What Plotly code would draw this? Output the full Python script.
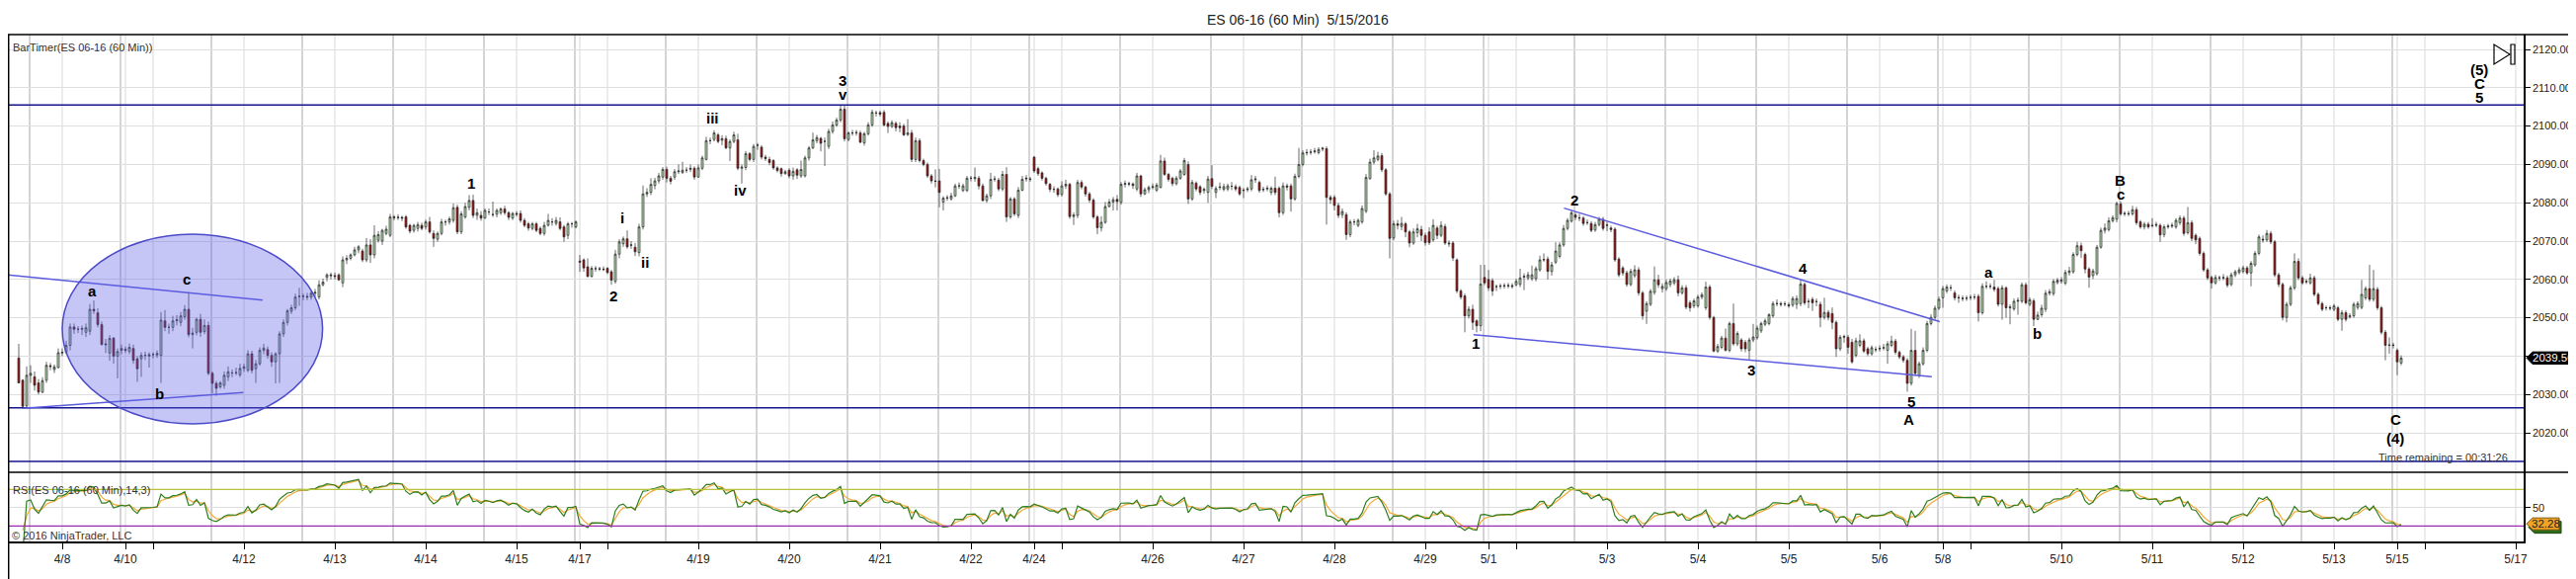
import plotly.graph_objects as go

# ---------------- DATA ----------------
# Each session: list of 60-min bars as (open, high, low, close)
d0407 = [(2039.5,2043.2,2032.9,2033.0),(2033.7,2034.0,2026.3,2026.9),(2027.0,2037.3,2026.4,2035.0),(2035.0,2037.6,2033.0,2035.5),
         (2034.6,2036.0,2031.0,2032.4),(2033.0,2034.0,2030.0,2030.6),(2030.6,2034.5,2030.3,2033.6),(2033.7,2038.5,2033.0,2037.6),
         (2037.5,2038.2,2036.3,2037.3),(2036.5,2037.8,2035.6,2037.2),(2037.0,2042.0,2036.8,2040.9)]
d0408 = [(2040.8,2042.0,2040.0,2041.0),(2041.0,2044.0,2040.5,2042.8),(2042.8,2048.5,2041.5,2047.6),(2047.6,2048.5,2045.8,2047.0),
         (2047.0,2047.8,2046.0,2047.0),(2047.0,2048.0,2045.5,2047.2),(2046.2,2048.5,2045.0,2047.4),(2046.5,2053.6,2045.5,2052.2),
         (2052.2,2054.5,2051.0,2051.8),(2051.3,2052.5,2047.5,2048.2),(2048.2,2049.0,2042.8,2043.0),(2043.2,2044.5,2040.8,2043.0),
         (2040.8,2045.5,2038.8,2044.6),(2044.7,2045.0,2038.0,2040.0),(2040.0,2042.0,2034.2,2041.2),(2041.5,2043.0,2040.5,2042.0)]
d0410 = [(2041.8,2042.5,2040.8,2041.5),(2041.2,2043.3,2040.5,2042.3),(2042.0,2043.0,2038.0,2038.9),(2039.3,2040.0,2033.3,2036.7),
         (2039.3,2041.0,2034.6,2040.2),(2040.2,2041.2,2039.0,2040.2),(2040.0,2041.0,2037.0,2040.4)]
d0411 = [(2040.4,2041.0,2039.4,2040.4),(2040.3,2041.5,2039.5,2040.7),(2040.2,2051.5,2033.0,2049.4),(2049.2,2052.0,2046.5,2047.5),
         (2047.5,2048.5,2045.8,2047.5),(2047.5,2050.5,2046.5,2049.2),(2049.2,2050.7,2048.0,2049.5),(2048.8,2051.5,2047.8,2050.5),
         (2050.3,2053.3,2049.5,2052.2),(2052.2,2056.7,2044.9,2045.6),(2045.6,2047.4,2042.0,2046.0),(2046.2,2050.0,2045.4,2049.6),
         (2049.6,2051.0,2045.0,2046.2),(2046.4,2049.6,2045.7,2048.0),(2048.0,2049.0,2035.0,2035.5),(2035.5,2036.0,2030.3,2032.9),
         (2032.9,2033.5,2029.6,2031.6),(2032.0,2033.5,2031.5,2033.0),(2032.4,2036.0,2031.5,2035.0),(2034.6,2037.3,2033.5,2035.9),
         (2035.6,2036.5,2034.5,2035.6),(2035.6,2037.0,2035.0,2035.7),(2035.1,2038.0,2034.5,2036.8)]
d0412 = [(2036.8,2038.0,2035.9,2037.2),(2036.3,2041.5,2035.8,2040.6),(2040.6,2041.4,2035.5,2036.3),(2036.7,2039.0,2033.0,2038.0),
         (2038.0,2042.3,2037.5,2041.5),(2041.5,2043.2,2040.5,2042.1),(2041.7,2042.5,2039.3,2040.2),(2040.2,2041.0,2037.2,2038.5),
         (2038.5,2041.0,2032.9,2040.6),(2040.6,2046.5,2033.0,2045.8),(2045.8,2049.6,2045.0,2048.8),(2048.8,2052.3,2048.0,2051.8),
         (2051.7,2053.4,2051.0,2052.6),(2052.6,2056.3,2052.0,2055.4),(2055.5,2057.8,2053.1,2055.6),(2055.6,2056.3,2054.5,2055.6),
         (2055.6,2056.5,2054.6,2055.4),(2055.4,2057.0,2054.7,2056.4),(2056.4,2057.5,2055.5,2056.6),(2055.4,2059.8,2054.8,2058.6),
         (2058.6,2060.2,2058.2,2059.3),(2060.5,2061.6,2059.5,2061.2),(2061.2,2061.8,2060.0,2061.0)]
d0413 = [(2061.0,2061.8,2060.0,2060.8),(2061.2,2061.6,2059.6,2059.9),(2059.1,2066.0,2058.0,2065.1),(2065.1,2066.3,2064.0,2065.5),
         (2065.5,2066.8,2065.0,2066.4),(2066.4,2068.5,2066.0,2067.7),(2067.7,2069.0,2066.8,2068.5),(2067.4,2068.0,2064.5,2065.1),
         (2065.1,2070.8,2064.5,2069.0),(2069.0,2070.5,2064.3,2066.4),(2066.4,2074.1,2065.5,2071.5),(2070.2,2072.6,2069.6,2071.7),
         (2070.0,2073.2,2069.0,2072.8),(2072.0,2074.0,2071.5,2073.1),(2071.5,2077.1,2071.0,2076.3),(2076.3,2076.8,2075.4,2076.1),
         (2076.1,2077.0,2075.5,2076.2),(2076.2,2076.6,2075.2,2076.0),(2076.3,2076.8,2073.2,2073.7),(2074.1,2074.5,2072.0,2072.6),
         (2072.8,2074.5,2072.2,2074.1),(2073.3,2075.0,2072.5,2074.3),(2074.1,2074.8,2072.8,2073.3)]
d0414 = [(2073.7,2075.6,2073.0,2075.0),(2075.0,2076.3,2071.9,2072.4),(2072.0,2072.8,2068.5,2070.7),(2070.5,2072.5,2069.8,2072.0),
         (2072.0,2075.8,2071.5,2075.0),(2075.0,2075.6,2074.0,2075.0),(2075.0,2076.4,2074.3,2075.8),(2075.4,2079.8,2074.8,2078.7),
         (2078.8,2079.5,2071.8,2072.4),(2072.4,2077.8,2071.8,2077.1),(2076.3,2080.0,2075.8,2079.0),(2078.8,2082.0,2078.0,2080.6),
         (2080.6,2082.1,2076.0,2076.7),(2076.7,2078.5,2075.5,2077.4),(2076.7,2077.8,2075.3,2076.0),(2076.0,2078.5,2075.8,2078.0),
         (2077.6,2078.5,2076.8,2077.6),(2076.9,2080.3,2076.3,2076.9),(2077.0,2078.5,2076.2,2078.0),(2077.4,2078.8,2076.8,2078.4),
         (2078.4,2079.2,2076.8,2077.4),(2077.4,2077.8,2075.5,2076.2),(2076.0,2077.6,2075.5,2077.2)]
d0415 = [(2077.2,2077.8,2076.4,2077.0),(2077.2,2078.0,2074.8,2075.4),(2075.4,2076.0,2073.6,2074.1),(2074.5,2075.0,2072.7,2073.4),
         (2073.3,2075.0,2072.8,2074.5),(2074.5,2075.0,2072.3,2072.8),(2073.3,2073.8,2071.5,2072.0),(2072.0,2075.0,2071.4,2074.1),
         (2074.1,2077.1,2073.8,2075.4),(2075.0,2076.0,2074.0,2075.0),(2074.6,2076.3,2074.0,2075.4),(2075.0,2076.2,2072.8,2073.3),
         (2073.7,2074.2,2069.8,2071.1),(2071.5,2075.0,2070.5,2074.5),(2074.5,2075.0,2073.5,2074.5),(2073.7,2075.4,2073.3,2075.0)]
d0417 = [(2064.8,2066.4,2062.0,2064.5),(2065.1,2065.5,2062.0,2063.0),(2063.3,2065.5,2060.5,2060.8),(2060.8,2063.5,2060.5,2062.9),
         (2062.8,2063.5,2062.0,2062.8),(2062.8,2063.3,2062.2,2062.7),(2062.7,2063.4,2062.2,2062.6)]
d0418 = [(2062.9,2063.2,2061.4,2061.8),(2062.0,2062.5,2058.6,2059.8),(2059.5,2067.7,2058.9,2066.6),(2066.6,2070.5,2065.5,2069.8),
         (2069.3,2071.2,2068.5,2070.6),(2070.6,2072.8,2068.0,2068.5),(2068.9,2070.0,2068.0,2069.0),(2068.4,2069.5,2066.1,2067.2),
         (2067.0,2074.5,2066.0,2073.7),(2073.7,2084.5,2073.0,2082.3),(2082.3,2083.8,2081.5,2082.7),(2082.7,2086.4,2082.0,2084.8),
         (2084.5,2086.5,2083.5,2085.7),(2085.7,2087.8,2085.0,2087.0),(2086.7,2089.3,2086.0,2088.7),(2088.7,2089.4,2085.3,2086.4),
         (2086.4,2087.0,2084.8,2085.6),(2086.7,2088.8,2086.0,2088.1),(2088.1,2090.0,2087.5,2088.3),(2087.9,2090.7,2087.5,2088.5),
         (2088.5,2089.3,2087.8,2088.5),(2088.7,2090.0,2088.0,2089.0),(2089.0,2089.5,2086.0,2086.7)]
d0419 = [(2086.7,2090.0,2086.5,2089.1),(2089.0,2092.3,2088.5,2091.7),(2091.3,2097.2,2091.0,2096.2),(2096.2,2097.0,2095.3,2096.2),
         (2096.5,2098.9,2096.0,2098.2),(2097.7,2098.2,2095.5,2096.0),(2096.3,2097.6,2095.0,2096.7),(2096.7,2097.5,2094.0,2094.3),
         (2094.3,2096.5,2090.9,2096.0),(2096.0,2098.5,2095.5,2097.7),(2096.4,2098.0,2088.5,2089.0),(2089.0,2090.0,2085.0,2089.3),
         (2089.2,2093.5,2088.5,2092.8),(2092.8,2093.2,2090.8,2091.3),(2091.3,2095.3,2090.6,2094.7),(2095.0,2095.6,2093.8,2095.0),
         (2094.5,2095.0,2091.3,2091.9),(2091.9,2092.5,2090.9,2091.5),(2091.3,2092.0,2089.8,2090.5),(2091.0,2091.4,2088.6,2089.1),
         (2089.1,2089.5,2087.9,2088.4),(2088.9,2089.2,2086.8,2087.6),(2087.6,2088.6,2087.3,2088.1)]
d0420 = [(2088.5,2089.0,2086.4,2087.0),(2087.0,2089.2,2086.0,2088.2),(2088.6,2089.0,2086.2,2087.2),(2087.0,2091.0,2086.5,2088.7),
         (2087.0,2092.3,2086.6,2091.7),(2091.7,2094.8,2091.0,2094.3),(2094.3,2098.3,2094.0,2096.4),(2096.2,2097.7,2095.5,2097.0),
         (2096.8,2097.2,2093.4,2095.5),(2096.0,2097.0,2089.6,2096.0),(2094.7,2099.3,2094.0,2098.6),(2098.6,2101.2,2098.0,2100.3),
         (2100.3,2102.2,2099.8,2101.6),(2101.6,2105.3,2101.0,2104.4),(2104.4,2105.5,2096.0,2096.7),(2096.5,2098.6,2096.0,2098.2),
         (2098.2,2099.0,2097.5,2098.2),(2098.2,2099.0,2097.5,2098.3),(2098.2,2098.8,2095.5,2095.8),(2095.6,2098.5,2094.9,2098.0),
         (2098.0,2101.0,2097.5,2100.3),(2100.3,2104.3,2099.8,2103.6),(2103.4,2104.0,2102.5,2103.4)]
d0421 = [(2103.5,2104.0,2102.5,2103.1),(2103.6,2104.2,2099.9,2100.3),(2100.7,2101.2,2098.2,2099.9),(2099.9,2101.5,2099.5,2100.9),
         (2100.7,2101.2,2098.6,2099.6),(2100.0,2101.0,2098.4,2099.6),(2100.0,2100.6,2097.4,2097.7),(2097.8,2101.8,2097.4,2098.2),
         (2098.2,2099.0,2090.6,2091.3),(2091.3,2097.0,2090.6,2096.2),(2096.2,2096.8,2090.5,2091.0),(2091.0,2091.5,2089.5,2090.0),
         (2090.0,2090.5,2086.5,2087.0),(2087.0,2087.5,2085.0,2085.7),(2085.7,2088.7,2084.0,2085.6),(2085.7,2088.8,2078.8,2082.7),
         (2080.2,2081.7,2078.0,2081.2),(2081.2,2082.0,2080.5,2081.3),(2081.0,2082.6,2080.6,2081.8),(2081.8,2085.0,2081.5,2084.4),
         (2084.4,2085.3,2083.6,2084.4),(2083.2,2085.0,2082.8,2084.4),(2083.2,2087.0,2082.8,2086.4)]
d0422 = [(2086.4,2087.0,2085.6,2086.4),(2086.3,2089.2,2085.5,2086.6),(2086.4,2087.0,2083.5,2084.4),(2084.4,2085.0,2080.3,2080.6),
         (2080.6,2082.4,2080.0,2081.8),(2081.8,2087.8,2081.0,2086.1),(2086.1,2087.0,2085.5,2086.2),(2085.9,2086.5,2083.0,2083.6),
         (2083.6,2088.3,2083.0,2087.4),(2087.4,2089.3,2075.0,2076.3),(2076.3,2081.5,2075.8,2081.0),(2081.0,2081.5,2076.5,2077.1),
         (2076.7,2084.1,2076.0,2083.3),(2083.3,2087.0,2083.0,2086.1),(2086.2,2087.2,2085.5,2086.4),(2086.1,2086.7,2085.5,2086.2)]
d0424 = [(2091.9,2092.2,2087.8,2088.3),(2088.9,2089.4,2087.0,2087.6),(2087.8,2088.2,2085.8,2086.4),(2086.4,2086.8,2084.5,2085.0),
         (2084.8,2085.2,2082.8,2083.5),(2083.5,2084.3,2082.6,2083.5),(2083.6,2084.0,2081.5,2082.1)]
d0425 = [(2082.2,2085.6,2081.6,2084.4),(2084.4,2086.0,2083.6,2084.8),(2084.8,2085.2,2075.8,2076.4),(2076.4,2077.5,2074.2,2076.8),
         (2076.7,2086.0,2076.0,2085.3),(2085.3,2085.9,2083.5,2084.1),(2084.1,2084.5,2081.6,2082.3),(2082.3,2082.8,2080.0,2080.7),
         (2080.7,2081.2,2075.8,2076.3),(2076.3,2076.8,2071.8,2073.5),(2073.5,2076.5,2072.5,2074.9),(2074.9,2080.2,2074.5,2079.0),
         (2079.0,2081.0,2078.8,2080.2),(2080.2,2081.5,2078.0,2080.8),(2080.9,2082.0,2078.0,2080.3),(2080.1,2085.4,2079.5,2084.8),
         (2084.8,2085.8,2084.0,2085.0),(2085.0,2085.5,2084.3,2084.9),(2084.9,2085.3,2083.6,2084.5),(2083.6,2087.8,2083.0,2087.0),
         (2087.0,2087.3,2081.5,2082.3),(2082.3,2084.0,2082.0,2083.4),(2083.4,2084.5,2082.5,2084.0)]
d0426 = [(2084.0,2085.0,2083.5,2084.2),(2083.3,2085.2,2082.8,2084.6),(2084.0,2092.5,2083.8,2090.9),(2090.9,2091.8,2087.0,2087.4),
         (2087.4,2087.8,2085.5,2086.1),(2086.4,2086.8,2084.3,2085.0),(2085.0,2087.0,2084.5,2086.4),(2086.4,2088.8,2086.0,2088.3),
         (2087.4,2091.7,2087.0,2091.0),(2090.0,2090.8,2079.7,2081.0),(2081.0,2086.0,2080.5,2085.3),(2085.1,2085.6,2083.0,2083.6),
         (2084.2,2084.6,2082.0,2082.7),(2083.2,2084.0,2082.4,2083.5),(2082.7,2087.0,2080.0,2086.2),(2086.3,2089.8,2083.6,2084.3),
         (2082.7,2084.3,2081.2,2083.7),(2084.0,2085.3,2083.3,2084.1),(2083.5,2085.0,2083.0,2084.2),(2083.6,2085.0,2083.0,2084.4),
         (2084.3,2085.4,2083.3,2084.3),(2084.2,2084.8,2083.0,2083.6),(2084.0,2084.5,2081.8,2082.3)]
d0427 = [(2083.2,2083.9,2081.2,2083.3),(2083.4,2084.2,2082.8,2083.6),(2083.6,2087.2,2083.0,2086.0),(2086.0,2087.0,2085.2,2086.2),
         (2085.3,2085.8,2082.6,2083.2),(2083.4,2084.2,2082.8,2083.5),(2083.6,2084.5,2083.0,2083.8),(2082.7,2084.3,2082.0,2083.8),
         (2083.8,2086.8,2082.0,2082.7),(2083.8,2084.3,2076.2,2077.4),(2077.4,2085.3,2076.8,2084.4),(2084.4,2085.0,2083.2,2084.1),
         (2084.4,2085.0,2077.7,2081.0),(2081.0,2087.6,2080.5,2086.9),(2086.9,2094.3,2086.4,2090.0),(2090.0,2093.7,2089.5,2093.0),
         (2093.0,2094.0,2092.3,2093.1),(2093.2,2094.0,2092.5,2093.2),(2093.3,2094.3,2092.8,2093.5),(2093.1,2094.5,2092.6,2093.9),
         (2094.0,2094.6,2093.4,2094.2),(2094.1,2094.7,2074.3,2081.4),(2081.4,2082.0,2079.7,2080.8)]
d0428 = [(2081.4,2082.0,2078.0,2079.3),(2079.3,2080.0,2076.0,2076.7),(2076.9,2078.5,2076.0,2077.7),(2076.9,2077.5,2070.3,2071.7),
         (2071.7,2075.6,2071.0,2075.0),(2075.0,2075.7,2074.1,2075.0),(2074.1,2075.9,2073.6,2075.4),(2075.0,2079.3,2074.5,2078.5),
         (2077.8,2087.5,2077.3,2086.6),(2086.3,2091.5,2086.0,2090.6),(2090.6,2093.7,2090.0,2091.7),(2091.3,2093.3,2090.8,2092.2),
         (2092.3,2093.0,2088.0,2088.6),(2088.6,2089.0,2081.8,2082.3),(2082.3,2082.8,2065.5,2070.7),(2070.8,2075.3,2070.2,2074.5),
         (2074.5,2075.5,2073.0,2074.1),(2073.8,2076.3,2072.8,2074.6),(2074.5,2075.0,2071.0,2072.4),(2072.4,2072.9,2068.4,2069.5),
         (2069.5,2073.3,2069.0,2072.4),(2072.2,2074.5,2071.0,2073.2),(2073.0,2074.0,2070.0,2071.5)]
d0429 = [(2071.5,2072.2,2068.8,2069.6),(2072.4,2073.6,2069.0,2069.6),(2070.3,2075.7,2069.8,2074.1),(2073.4,2074.0,2070.5,2071.5),
         (2071.5,2075.2,2071.0,2074.1),(2073.8,2074.5,2069.0,2069.5),(2069.5,2070.2,2068.5,2069.3),(2069.5,2070.0,2064.8,2065.6),
         (2065.1,2065.5,2056.4,2057.0),(2057.0,2057.5,2054.8,2055.4),(2055.7,2056.3,2046.2,2050.5),(2050.5,2053.0,2049.8,2052.2),
         (2052.2,2053.4,2046.8,2048.8),(2049.2,2049.6,2046.2,2047.9),(2047.9,2063.8,2046.5,2058.8),(2060.5,2063.8,2058.5,2059.1)]
d0501 = [(2060.0,2062.5,2057.0,2057.8),(2059.7,2060.3,2055.7,2057.0),(2058.1,2058.7,2057.0,2058.1),(2058.2,2058.9,2057.5,2058.3),
         (2058.4,2059.0,2057.6,2058.3),(2058.3,2059.1,2057.7,2058.4),(2058.4,2059.0,2057.6,2058.2)]
d0502 = [(2058.6,2060.2,2058.2,2059.5),(2058.7,2062.8,2058.0,2060.4),(2060.6,2061.6,2057.2,2060.8),(2060.4,2062.0,2059.8,2061.2),
         (2060.2,2063.6,2059.6,2061.2),(2060.2,2063.4,2059.5,2062.8),(2062.5,2066.2,2062.0,2065.1),(2065.1,2066.8,2064.6,2065.2),
         (2065.3,2066.0,2060.0,2062.1),(2062.1,2064.6,2061.0,2063.8),(2064.5,2069.7,2064.0,2067.4),(2066.0,2069.7,2065.5,2069.0),
         (2069.0,2074.2,2068.5,2073.3),(2073.3,2076.0,2072.8,2075.4),(2075.2,2078.0,2074.8,2077.4),(2076.8,2077.4,2075.5,2076.2),
         (2076.1,2077.1,2075.2,2076.0),(2076.0,2076.5,2074.0,2074.6),(2074.8,2075.6,2074.2,2074.8),(2074.6,2075.2,2072.3,2072.8),
         (2072.9,2075.0,2072.4,2074.3),(2074.3,2076.3,2073.8,2075.7),(2075.7,2076.3,2072.7,2073.3)]
d0503 = [(2074.2,2075.0,2072.6,2074.1),(2073.4,2074.0,2072.3,2073.0),(2073.1,2073.6,2064.6,2065.1),(2065.3,2065.8,2060.6,2061.2),
         (2063.0,2063.5,2061.0,2061.7),(2061.7,2062.3,2058.1,2058.7),(2058.7,2062.8,2058.2,2062.1),(2061.0,2063.7,2060.4,2062.5),
         (2062.5,2063.2,2055.8,2056.5),(2056.5,2057.0,2049.5,2050.5),(2051.7,2054.3,2048.4,2053.7),(2053.5,2057.5,2053.0,2056.9),
         (2056.6,2063.4,2056.0,2059.9),(2059.9,2061.2,2057.8,2058.6),(2057.6,2059.0,2056.6,2058.2),(2057.6,2060.0,2057.0,2059.2),
         (2058.7,2060.2,2058.0,2059.6),(2059.1,2060.6,2058.5,2059.9),(2059.9,2061.0,2055.6,2056.5),(2056.5,2058.5,2056.0,2057.8),
         (2057.8,2058.5,2052.2,2052.8),(2053.9,2054.5,2051.6,2052.6),(2053.1,2055.0,2052.5,2054.4)]
d0504 = [(2053.1,2056.0,2052.6,2055.4),(2055.4,2056.6,2054.8,2056.0),(2052.6,2059.4,2052.0,2058.0),(2058.0,2058.6,2049.5,2050.1),
         (2050.1,2050.5,2041.0,2041.3),(2041.3,2043.2,2040.8,2042.5),(2042.3,2045.3,2041.8,2044.7),(2044.7,2047.2,2041.2,2041.5),
         (2041.5,2049.0,2041.0,2048.5),(2048.5,2053.7,2042.7,2043.2),(2043.2,2046.5,2042.6,2045.9),(2044.2,2044.7,2041.2,2041.9),
         (2043.6,2044.2,2041.0,2041.9),(2041.5,2044.8,2038.9,2044.2),(2044.2,2048.4,2043.6,2045.0),(2044.8,2048.0,2044.3,2047.3),
         (2046.6,2049.0,2046.0,2048.5),(2048.3,2049.8,2047.8,2049.2),(2048.5,2051.2,2048.0,2050.8),(2050.5,2054.3,2050.0,2053.7),
         (2053.7,2054.8,2053.0,2053.7),(2053.7,2054.2,2052.9,2053.5),(2053.6,2054.3,2053.0,2053.6)]
d0505 = [(2053.4,2054.0,2052.6,2053.1),(2053.3,2055.6,2052.8,2055.0),(2053.5,2055.8,2052.3,2055.0),(2053.7,2059.9,2053.0,2058.8),
         (2058.7,2059.2,2053.3,2053.9),(2054.3,2055.0,2052.5,2054.2),(2054.8,2055.4,2051.8,2053.9),(2054.2,2055.0,2053.0,2054.2),
         (2053.5,2054.2,2047.5,2050.1),(2050.1,2055.2,2049.5,2051.4),(2051.4,2052.0,2049.3,2050.1),(2051.1,2052.7,2047.0,2048.8),
         (2048.8,2049.3,2039.8,2041.9),(2041.9,2045.5,2041.3,2044.9),(2044.9,2045.6,2043.5,2045.1),(2044.9,2045.5,2040.6,2042.3),
         (2043.6,2044.5,2038.0,2038.5),(2040.2,2044.8,2039.7,2044.0),(2042.8,2045.7,2042.3,2044.0),(2044.0,2044.6,2040.8,2041.3),
         (2041.9,2042.4,2040.0,2040.6),(2040.6,2042.8,2040.1,2042.2),(2041.7,2042.5,2041.0,2041.7)]
d0506 = [(2041.9,2042.8,2041.2,2042.0),(2042.1,2043.2,2041.5,2042.2),(2041.5,2043.9,2038.0,2043.2),(2042.8,2045.3,2042.3,2043.9),
         (2043.9,2044.5,2040.4,2041.0),(2041.0,2041.5,2039.2,2039.8),(2039.8,2040.3,2038.3,2038.9),(2038.9,2039.5,2030.7,2032.9),
         (2032.9,2047.1,2032.3,2041.5),(2041.5,2046.6,2034.8,2035.5),(2035.0,2038.6,2034.3,2038.0),(2038.0,2042.3,2037.5,2041.5),
         (2041.5,2049.2,2041.0,2048.5),(2048.5,2050.9,2048.0,2050.1),(2050.1,2053.2,2049.5,2052.5),(2052.5,2055.5,2052.0,2054.8)]
d0508 = [(2055.2,2058.3,2052.6,2057.6),(2057.0,2058.7,2056.4,2058.0),(2057.8,2058.6,2057.0,2057.8),(2056.5,2057.1,2054.5,2055.2),
         (2055.3,2056.0,2053.9,2055.2),(2055.1,2055.8,2054.3,2055.0),(2055.1,2055.8,2054.4,2055.1)]
d0509 = [(2055.3,2056.0,2054.6,2055.3),(2055.4,2056.2,2054.7,2055.4),(2055.6,2056.2,2049.0,2051.3),(2051.3,2059.0,2050.8,2058.2),
         (2058.2,2059.5,2057.5,2058.2),(2058.2,2059.0,2057.5,2058.2),(2058.0,2059.9,2056.8,2057.4),(2057.6,2058.2,2052.9,2053.5),
         (2053.5,2058.5,2049.5,2057.8),(2057.8,2058.2,2050.0,2052.6),(2052.6,2053.5,2048.3,2052.8),(2052.3,2055.0,2051.8,2054.3),
         (2054.3,2055.3,2050.8,2054.5),(2054.3,2059.2,2053.8,2058.6),(2058.6,2059.2,2053.4,2053.9),(2053.5,2055.3,2053.0,2054.7),
         (2054.4,2055.0,2047.8,2049.6),(2049.6,2051.6,2049.4,2050.7),(2050.8,2053.4,2050.2,2052.5),(2052.2,2057.2,2051.5,2056.4),
         (2056.4,2057.5,2055.8,2056.8),(2056.3,2060.1,2055.7,2059.5),(2059.2,2060.4,2058.7,2059.8)]
d0510 = [(2059.5,2060.6,2058.9,2059.9),(2059.0,2062.5,2058.5,2061.8),(2061.8,2063.3,2061.0,2062.2),(2062.0,2067.1,2061.5,2066.5),
         (2066.5,2069.8,2066.0,2068.8),(2068.8,2069.6,2065.6,2067.5),(2066.5,2067.0,2061.6,2062.7),(2062.7,2063.2,2057.8,2060.6),
         (2061.0,2062.8,2060.1,2062.2),(2061.5,2069.0,2061.0,2068.4),(2068.4,2073.5,2068.0,2072.8),(2072.8,2074.6,2072.0,2073.4),
         (2073.0,2076.2,2072.5,2075.3),(2075.3,2076.7,2074.8,2076.1),(2075.7,2080.3,2074.9,2079.8),(2079.7,2080.3,2076.6,2077.1),
         (2077.1,2077.8,2076.5,2077.2),(2077.2,2077.9,2076.5,2077.1),(2077.1,2079.2,2076.6,2078.2),(2078.2,2078.9,2074.2,2074.8),
         (2075.0,2075.5,2073.2,2073.7),(2073.7,2075.0,2073.0,2074.4),(2074.4,2075.0,2073.2,2073.7)]
d0511 = [(2074.0,2076.0,2073.5,2074.1),(2074.1,2075.0,2073.6,2074.3),(2074.1,2074.6,2069.8,2071.6),(2071.7,2074.3,2071.0,2073.7),
         (2073.7,2074.5,2073.2,2073.9),(2073.9,2074.8,2073.4,2074.1),(2073.7,2076.0,2073.2,2075.4),(2074.8,2076.7,2074.2,2076.0),
         (2076.0,2076.6,2071.4,2072.0),(2072.2,2078.9,2071.7,2074.8),(2074.8,2075.4,2070.0,2070.7),(2071.5,2072.0,2069.2,2070.3),
         (2070.7,2071.2,2066.2,2066.8),(2066.8,2067.3,2062.0,2062.5),(2062.5,2063.0,2059.8,2060.4),(2060.5,2061.0,2057.6,2059.1),
         (2059.1,2061.2,2058.6,2060.5),(2060.4,2061.0,2059.6,2060.4),(2060.5,2061.4,2059.8,2060.4),(2060.4,2061.0,2057.9,2058.5),
         (2058.7,2061.8,2058.2,2061.2),(2061.2,2062.5,2060.6,2062.0),(2061.8,2063.2,2061.3,2062.5)]
d0512 = [(2062.1,2063.6,2061.6,2063.0),(2063.0,2063.5,2061.2,2061.7),(2061.7,2064.8,2058.2,2064.2),(2063.8,2067.4,2063.3,2066.8),
         (2066.8,2071.7,2066.3,2071.1),(2070.5,2071.5,2069.6,2070.3),(2070.3,2072.9,2069.8,2072.0),(2072.0,2072.6,2069.2,2069.8),
         (2069.8,2070.3,2060.6,2061.2),(2061.2,2061.7,2058.0,2058.7),(2058.7,2059.2,2049.3,2050.1),(2050.1,2054.1,2048.8,2053.5),
         (2053.5,2058.4,2053.0,2057.8),(2057.8,2066.8,2057.2,2064.7),(2064.7,2065.5,2059.8,2060.4),(2060.4,2060.9,2058.6,2059.1),
         (2059.5,2060.1,2058.8,2059.4),(2059.1,2061.5,2058.6,2060.4),(2060.4,2061.0,2055.6,2056.1),(2056.1,2056.6,2053.2,2053.7),
         (2053.7,2054.2,2051.7,2052.2),(2052.6,2053.2,2051.9,2052.6),(2052.6,2053.2,2051.9,2052.5)]
d0513 = [(2052.2,2053.6,2051.7,2053.1),(2052.6,2053.1,2049.1,2049.6),(2049.6,2052.0,2046.6,2051.3),(2051.3,2051.9,2049.0,2049.6),
         (2050.2,2051.2,2049.8,2050.5),(2050.5,2054.1,2050.0,2053.5),(2052.7,2054.3,2052.1,2053.7),(2052.7,2059.9,2052.2,2056.1),
         (2055.2,2058.2,2054.6,2057.6),(2057.6,2063.8,2054.2,2054.8),(2054.8,2062.5,2054.2,2057.6),(2057.4,2058.0,2052.0,2052.6),
         (2052.6,2053.1,2045.6,2046.2),(2046.2,2046.8,2038.9,2042.8),(2042.8,2044.9,2040.6,2042.9),(2042.9,2043.5,2042.0,2042.8)]
d0515 = [(2041.5,2042.0,2035.0,2038.5),(2038.2,2040.2,2037.6,2039.5)]

# sessions: (date label, weekday, session length in bars, bars)
sessions = [
    ("4/7", "Thu", 11, d0407), ("4/8", "Fri", 16, d0408), ("4/10", "Sun", 7, d0410), ("4/11", "Mon", 23, d0411),
    ("4/12", "Tue", 23, d0412), ("4/13", "Wed", 23, d0413), ("4/14", "Thu", 23, d0414), ("4/15", "Fri", 16, d0415),
    ("4/17", "Sun", 7, d0417), ("4/18", "Mon", 23, d0418), ("4/19", "Tue", 23, d0419), ("4/20", "Wed", 23, d0420),
    ("4/21", "Thu", 23, d0421), ("4/22", "Fri", 16, d0422), ("4/24", "Sun", 7, d0424), ("4/25", "Mon", 23, d0425),
    ("4/26", "Tue", 23, d0426), ("4/27", "Wed", 23, d0427), ("4/28", "Thu", 23, d0428), ("4/29", "Fri", 16, d0429),
    ("5/1", "Sun", 7, d0501), ("5/2", "Mon", 23, d0502), ("5/3", "Tue", 23, d0503), ("5/4", "Wed", 23, d0504),
    ("5/5", "Thu", 23, d0505), ("5/6", "Fri", 16, d0506), ("5/8", "Sun", 7, d0508), ("5/9", "Mon", 23, d0509),
    ("5/10", "Tue", 23, d0510), ("5/11", "Wed", 23, d0511), ("5/12", "Thu", 23, d0512), ("5/13", "Fri", 16, d0513),
    ("5/15", "Sun", 7, d0515), ("5/16", "Mon", 23, []), ("5/17", "Tue", 23, []),
]

price_levels = [2105.5, 2026.5, 2012.5]
price_ticks = [2020, 2030, 2040, 2050, 2060, 2070, 2080, 2090, 2100, 2110, 2120]
trend_lines = [(-2.75, 2061.2, 61.7, 2054.6), (1.1, 2026.35, 56.85, 2030.5),
               (391.1, 2078.6, 486.2, 2049.0), (368.2, 2045.6, 484.2, 2034.6)]
ellipse_box = (11.0, 2022.3, 76.9, 2071.8)
wave_labels = [("a", 18.7, 2057.1), ("b", 35.6, 2030.3), ("c", 42.6, 2060.2), ("1", 114.5, 2085.1),
               ("2", 150.6, 2055.6), ("i", 152.7, 2076.0), ("ii", 158.6, 2064.4), ("iii", 175.7, 2102.2),
               ("iv", 182.7, 2083.4), ("3", 208.5, 2111.9), ("v", 208.5, 2108.4), ("1", 368.7, 2043.2),
               ("2", 393.8, 2080.8), ("3", 438.6, 2036.3), ("4", 451.7, 2062.9), ("5", 478.9, 2028.2),
               ("A", 478.3, 2023.6), ("a", 498.7, 2061.9), ("b", 510.8, 2045.8), ("B", 531.9, 2085.9),
               ("c", 531.9, 2082.3), ("(5)", 622.75, 2114.8), ("C", 622.75, 2111.2), ("5", 622.75, 2107.4),
               ("C", 601.5, 2023.4), ("(4)", 601.5, 2018.7)]
rsi_marker_value = 32.28
rsi_period, rsi_smooth = 14, 3
title_text = "ES 06-16 (60 Min)  5/15/2016"

# ---------------- build series ----------------
bars, starts = [], []
pos = 0
for lab, wd, length, day in sessions:
    starts.append(pos)
    bars.extend(day)
    pos += length
n = len(bars)
xs = list(range(n))
opens = [b[0] for b in bars]; highs = [b[1] for b in bars]
lows = [b[2] for b in bars]; closes = [b[3] for b in bars]

# RSI (NinjaTrader style: Wilder averages, EMA smoothing)
rsi_vals, rsi_avg = [None] * n, [None] * n
ups = [0.0] + [max(closes[i] - closes[i - 1], 0) for i in range(1, n)]
dns = [0.0] + [max(closes[i - 1] - closes[i], 0) for i in range(1, n)]
au = ad = 0.0
prev = 50.0
k = 2.0 / (1 + rsi_smooth)
for i in range(1, n):
    if i < rsi_period:
        au = sum(ups[1:i + 1]) / i
        ad = sum(dns[1:i + 1]) / i
    else:
        au = (au * (rsi_period - 1) + ups[i]) / rsi_period
        ad = (ad * (rsi_period - 1) + dns[i]) / rsi_period
    r = 100.0 if ad == 0 else 100 - 100 / (1 + au / ad)
    prev = k * r + (1 - k) * prev
    rsi_vals[i] = r
    rsi_avg[i] = prev

# ---------------- geometry ----------------
W, H = 2608, 586
PL, PR, PT, PB = 0, 2547, 27, 540
SEP = 470
PW, PH = PR - PL, PB - PT
def xp(px): return (px - PL) / PW
def yp(py): return (PB - py) / PH
split = yp(SEP)
FONT = "Liberation Sans, Arial, sans-serif"

fig = go.Figure()
fig.add_trace(go.Candlestick(
    x=xs, open=opens, high=highs, low=lows, close=closes,
    increasing=dict(line=dict(color="#2a2a2a", width=0.7), fillcolor="#b4dcae"),
    decreasing=dict(line=dict(color="#2a2a2a", width=0.7), fillcolor="#a01414"),
    whiskerwidth=0, showlegend=False, hoverinfo="skip", xaxis="x", yaxis="y"))
fig.add_trace(go.Scatter(x=xs, y=rsi_avg, mode="lines", line=dict(color="#f2a93b", width=1.2),
                         showlegend=False, hoverinfo="skip", xaxis="x", yaxis="y2"))
fig.add_trace(go.Scatter(x=xs, y=rsi_vals, mode="lines", line=dict(color="#2f7d1f", width=1.2),
                         showlegend=False, hoverinfo="skip", xaxis="x", yaxis="y2"))

shapes, annotations = [], []
tickvals, ticktext = [], []
for (lab, wd, length, day), s in zip(sessions, starts):
    if lab == "4/7":
        continue
    tickvals.append(s)
    ticktext.append("" if wd == "Mon" else lab)
    shapes.append(dict(type="line", xref="x", yref="paper", x0=s, x1=s, y0=0, y1=1,
                       line=dict(color="#dadada", width=1), layer="below"))
    if s <= n:
        if wd == "Sun":
            dx = s - 1.25
        elif wd in ("Tue", "Wed", "Thu", "Fri"):
            dx = s - 8.25
        else:
            dx = None
        if dx is not None:
            shapes.append(dict(type="line", xref="x", yref="paper", x0=dx, x1=dx, y0=0, y1=1,
                               line=dict(color="#a9a9b2", width=1), layer="below"))

# price levels, trend lines, ellipse
for lv in price_levels:
    shapes.append(dict(type="line", xref="paper", yref="y", x0=0, x1=1, y0=lv, y1=lv,
                       line=dict(color="#14148c", width=1.5)))
for (x0, y0, x1, y1) in trend_lines:
    shapes.append(dict(type="line", xref="x", yref="y", x0=x0, y0=y0, x1=x1, y1=y1,
                       line=dict(color="#5b5be0", width=1.5)))
ex0, ey0, ex1, ey1 = ellipse_box
shapes.append(dict(type="circle", xref="x", yref="y", x0=ex0, y0=ey0, x1=ex1, y1=ey1,
                   fillcolor="rgba(95,95,230,0.36)", line=dict(color="#4b4bc8", width=1.5)))
# RSI reference lines
shapes.append(dict(type="line", xref="paper", yref="y2", x0=0, x1=1, y0=70, y1=70, line=dict(color="#b7c23e", width=1.2)))
shapes.append(dict(type="line", xref="paper", yref="y2", x0=0, x1=1, y0=30, y1=30, line=dict(color="#9a2ab0", width=1.2)))

# frame
ext = (W - PL) / PW
shapes += [
    dict(type="line", xref="paper", yref="paper", x0=0, x1=ext, y0=1, y1=1, line=dict(color="black", width=1.5)),
    dict(type="line", xref="paper", yref="paper", x0=xp(0.7), x1=xp(0.7), y0=yp(585), y1=1, line=dict(color="black", width=1.5)),
    dict(type="line", xref="paper", yref="paper", x0=0, x1=ext, y0=yp(585), y1=yp(585), line=dict(color="black", width=1.5)),
    dict(type="line", xref="paper", yref="paper", x0=0, x1=ext, y0=split, y1=split, line=dict(color="black", width=1.5)),
]
# play icon
shapes.append(dict(type="path", xref="paper", yref="paper",
                   path=f"M {xp(2517)},{yp(37)} L {xp(2517)},{yp(57)} L {xp(2533)},{yp(47)} Z",
                   line=dict(color="black", width=1.2)))
shapes.append(dict(type="rect", xref="paper", yref="paper", x0=xp(2534), x1=xp(2538), y0=yp(57), y1=yp(37),
                   line=dict(color="black", width=1.2)))

# last price marker
last = closes[-1]
hh = 6.2 / 3.88
shapes.append(dict(type="path", xref="paper", yref="y",
                   path=f"M {xp(2550)},{last} L {xp(2556)},{last+hh} L {xp(2599)},{last+hh} L {xp(2599)},{last-hh} L {xp(2556)},{last-hh} Z",
                   fillcolor="black", line=dict(color="black", width=1)))
annotations.append(dict(x=xp(2577), y=last, xref="paper", yref="y", text=f"{last:.2f}", showarrow=False,
                        font=dict(family=FONT, size=11.5, color="white"), xanchor="center", yanchor="middle"))
# RSI marker
rv = rsi_marker_value
rh = 6.0 / 0.925
off = 3.5 / 0.925
shapes.append(dict(type="path", xref="paper", yref="y2",
                   path=f"M {xp(2552)},{rv-off} L {xp(2558)},{rv-off+rh} L {xp(2585)},{rv-off+rh} L {xp(2585)},{rv-off-rh} L {xp(2558)},{rv-off-rh} Z",
                   fillcolor="#2e6a1c", line=dict(color="#1f4a12", width=1)))
shapes.append(dict(type="path", xref="paper", yref="y2",
                   path=f"M {xp(2550)},{rv} L {xp(2556)},{rv+rh} L {xp(2583)},{rv+rh} L {xp(2583)},{rv-rh} L {xp(2556)},{rv-rh} Z",
                   fillcolor="#f3a323", line=dict(color="#7a5a10", width=1)))
annotations.append(dict(x=xp(2569), y=rv, xref="paper", yref="y2", text=f"{rv:.2f}", showarrow=False,
                        font=dict(family=FONT, size=11.5, color="#222"), xanchor="center", yanchor="middle"))

# wave labels
for txt, xi, yv in wave_labels:
    annotations.append(dict(x=xi, y=yv, xref="x", yref="y", text=f"<b>{txt}</b>", showarrow=False,
                            font=dict(family=FONT, size=15, color="black"), xanchor="center", yanchor="middle"))

# texts
annotations += [
    dict(x=xp(1306), y=yp(12), xref="paper", yref="paper", text=title_text, showarrow=False,
         font=dict(family=FONT, size=14, color="#222"), xanchor="center", yanchor="middle"),
    dict(x=xp(3), y=yp(40), xref="paper", yref="paper", text="BarTimer(ES 06-16 (60 Min))", showarrow=False,
         font=dict(family=FONT, size=11, color="#333"), xanchor="left", yanchor="middle"),
    dict(x=xp(3), y=yp(488), xref="paper", yref="paper", text="RSI(ES 06-16 (60 Min),14,3)", showarrow=False,
         font=dict(family=FONT, size=11, color="#333"), xanchor="left", yanchor="middle"),
    dict(x=xp(2), y=yp(534), xref="paper", yref="paper", text="© 2016 NinjaTrader, LLC", showarrow=False,
         font=dict(family=FONT, size=11, color="#333"), xanchor="left", yanchor="middle"),
    dict(x=xp(2465), y=yp(455), xref="paper", yref="paper", text="Time remaining = 00:31:26", showarrow=False,
         font=dict(family=FONT, size=11, color="#333"), xanchor="center", yanchor="middle"),
]

fig.update_layout(
    width=W, height=H, autosize=False,
    margin=dict(l=PL, r=W - PR, t=PT, b=H - PB, pad=0),
    paper_bgcolor="white", plot_bgcolor="white",
    showlegend=False, hovermode=False,
    shapes=shapes, annotations=annotations,
    xaxis=dict(domain=[0, 1], anchor="y2", range=[-2.75, 634.0], tickmode="array",
               tickvals=tickvals, ticktext=ticktext, ticks="outside", ticklen=6, tickcolor="black",
               tickfont=dict(family=FONT, size=12, color="#222"), showgrid=False, zeroline=False,
               showline=True, linecolor="black", linewidth=1.5, rangeslider=dict(visible=False), fixedrange=True),
    yaxis=dict(domain=[split, 1], anchor="x", side="right", range=[2009.69, 2123.87], tickmode="array",
               tickvals=price_ticks, ticktext=[f"{v:.2f}" for v in price_ticks], ticks="outside", ticklen=5,
               tickcolor="black", tickfont=dict(family=FONT, size=11, color="#222"), showgrid=True,
               gridcolor="#dedede", gridwidth=1, zeroline=False, showline=True, linecolor="black", linewidth=1.5),
    yaxis2=dict(domain=[0, split], anchor="x", side="right", range=[13.0, 88.7], tickmode="array",
                tickvals=[50], ticktext=["50"], ticks="outside", ticklen=5, tickcolor="black",
                tickfont=dict(family=FONT, size=11, color="#222"), showgrid=True, gridcolor="#dedede",
                zeroline=False, showline=True, linecolor="black", linewidth=1.5),
)

fig.write_html("out.html", config={"displayModeBar": False})
